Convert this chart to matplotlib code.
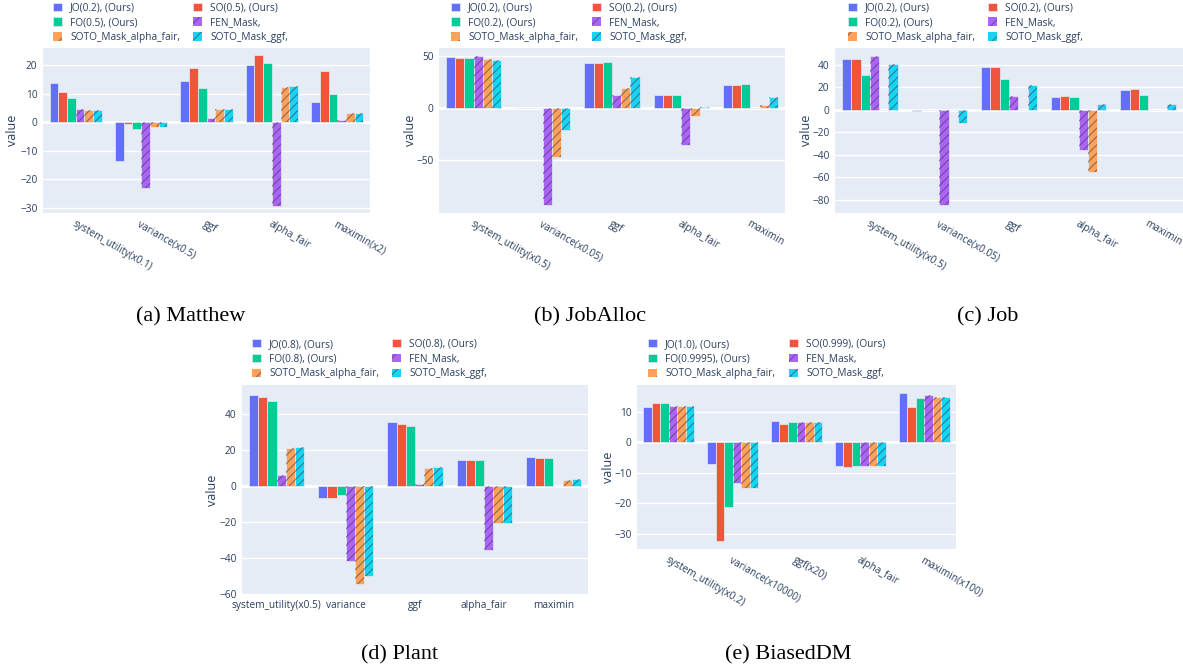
import matplotlib
matplotlib.use("Agg")
import matplotlib.pyplot as plt
import numpy as np
from matplotlib.patches import Patch

plt.rcParams['font.family'] = ['Open Sans', 'DejaVu Sans']
plt.rcParams['hatch.linewidth'] = 0.8

# ---------------------------------------------------------------- data
baselines = ["FEN_Mask,", "SOTO_Mask_alpha_fair,", "SOTO_Mask_ggf,"]

matthew_series = ["JO(0.2), (Ours)", "SO(0.5), (Ours)", "FO(0.5), (Ours)"] + baselines
matthew_metrics = ["system_utility(x0.1)", "variance(x0.5)", "ggf", "alpha_fair", "maximin(x2)"]
matthew_values = [
    [13.9, -13.5, 14.5, 20.0, 7.2],
    [10.7, -0.6, 18.9, 23.4, 17.8],
    [8.5, -2.5, 11.9, 20.8, 10.0],
    [4.7, -23.0, 1.6, -29.2, 0.7],
    [4.2, -1.5, 4.6, 12.4, 3.2],
    [4.2, -1.5, 4.6, 12.6, 3.2],
]

joballoc_series = ["JO(0.2), (Ours)", "SO(0.2), (Ours)", "FO(0.2), (Ours)"] + baselines
joballoc_metrics = ["system_utility(x0.5)", "variance(x0.05)", "ggf", "alpha_fair", "maximin"]
joballoc_values = [
    [48.4, -0.4, 43.0, 12.4, 21.7],
    [47.8, -0.4, 43.0, 12.4, 22.0],
    [47.8, -0.3, 44.0, 12.4, 22.6],
    [50.0, -92.4, 12.4, -35.7, 0.0],
    [47.1, -46.5, 19.4, -7.3, 2.9],
    [45.5, -21.3, 29.6, 1.3, 10.5],
]

job_series = ["JO(0.2), (Ours)", "SO(0.2), (Ours)", "FO(0.2), (Ours)"] + baselines
job_metrics = ["system_utility(x0.5)", "variance(x0.05)", "ggf", "alpha_fair", "maximin"]
job_values = [
    [44.7, -0.8, 37.6, 11.3, 17.2],
    [44.7, -0.5, 38.2, 12.2, 18.4],
    [31.1, -0.1, 27.3, 11.3, 13.4],
    [48.0, -84.2, 12.2, -35.7, 0.0],
    [0.0, 0.0, 0.0, -55.2, 0.0],
    [40.6, -11.7, 22.3, 5.4, 5.1],
]

plant_series = ["JO(0.8), (Ours)", "SO(0.8), (Ours)", "FO(0.8), (Ours)"] + baselines
plant_metrics = ["system_utility(x0.5)", "variance", "ggf", "alpha_fair", "maximin"]
plant_values = [
    [50.7, -6.3, 35.6, 14.8, 16.5],
    [49.6, -6.7, 34.4, 14.6, 15.9],
    [47.4, -4.8, 33.3, 14.4, 15.7],
    [6.3, -41.5, 1.1, -35.4, 0.0],
    [21.1, -54.3, 10.2, -20.6, 3.5],
    [21.7, -50.0, 10.7, -20.6, 3.9],
]

biaseddm_series = ["JO(1.0), (Ours)", "SO(0.999), (Ours)", "FO(0.9995), (Ours)"] + baselines
biaseddm_metrics = ["system_utility(x0.2)", "variance(x10000)", "ggf(x20)", "alpha_fair", "maximin(x100)"]
biaseddm_values = [
    [11.6, -7.1, 7.0, -7.8, 16.2],
    [12.7, -32.4, 6.1, -8.0, 11.5],
    [12.7, -21.2, 6.5, -7.9, 14.6],
    [11.8, -13.3, 6.7, -7.9, 15.3],
    [11.8, -15.1, 6.6, -7.9, 14.8],
    [12.0, -15.1, 6.6, -7.9, 14.8],
]

captions = ["(a) Matthew", "(b) JobAlloc", "(c) Job", "(d) Plant", "(e) BiasedDM"]

# ---------------------------------------------------------------- style
COLORS = ["#636EFA", "#EF553B", "#00CC96", "#AB63FA", "#FFA15A", "#19D3F3"]
HATCHED = [False, False, False, True, True, True]
BG = "#E5ECF6"
TXT = "#2a3f5f"
HATCH_COLOR = (0.25, 0.25, 0.3, 0.6)
HATCH = "////"

W, H = 1183, 671
fig = plt.figure(figsize=(W / 100, H / 100), dpi=100)


def fx(px):
    return px / W


def fy(py):
    return 1 - py / H


# panel layout in pixels: plot box, y range/ticks, label rotation, legend and caption anchors
panels = [
    dict(series=matthew_series, metrics=matthew_metrics, values=matthew_values,
         box=(43, 370, 48, 213), ylim=(-31.8, 26.0), yticks=[-30, -20, -10, 0, 10, 20],
         rotate=True, leg_x=(53, 193), leg_y=22.7, ylab_x=12, cap=(191, 317)),
    dict(series=joballoc_series, metrics=joballoc_metrics, values=joballoc_values,
         box=(439, 785, 48, 213), ylim=(-100.3, 57.3), yticks=[-50, 0, 50],
         rotate=True, leg_x=(451, 592), leg_y=22.7, ylab_x=410, cap=(590, 317)),
    dict(series=job_series, metrics=job_metrics, values=job_values,
         box=(835, 1183, 48, 213), ylim=(-91.5, 54.8), yticks=[-80, -60, -40, -20, 0, 20, 40],
         rotate=True, leg_x=(848, 988), leg_y=22.7, ylab_x=807, cap=(988, 317)),
    dict(series=plant_series, metrics=plant_metrics, values=plant_values,
         box=(242, 588, 385, 595), ylim=(-60.4, 56.3), yticks=[-60, -40, -20, 0, 20, 40],
         rotate=False, leg_x=(252, 392), leg_y=359, ylab_x=212, cap=(400, 655)),
    dict(series=biaseddm_series, metrics=biaseddm_metrics, values=biaseddm_values,
         box=(637, 956, 385, 549), ylim=(-34.9, 18.7), yticks=[-30, -20, -10, 0, 10],
         rotate=True, leg_x=(648, 789), leg_y=359, ylab_x=608, cap=(788, 655)),
]

FS = 7.3
n_series = 6
width = 0.8 / n_series

for p, caption in zip(panels, captions):
    l, r, t, b = p["box"]
    ax = fig.add_axes([fx(l), fy(b), fx(r) - fx(l), fy(t) - fy(b)])
    ax.set_facecolor(BG)
    for s in ax.spines.values():
        s.set_visible(False)

    x = np.arange(len(p["metrics"]))
    handles = []
    for i, (name, vals) in enumerate(zip(p["series"], p["values"])):
        pos = x + (i - (n_series - 1) / 2) * width
        ax.bar(pos, vals, width, color=COLORS[i], edgecolor=BG, linewidth=0.5, zorder=2)
        if HATCHED[i]:
            ax.bar(pos, vals, width, fill=False, edgecolor=HATCH_COLOR, linewidth=0,
                   hatch=HATCH, zorder=2.1)
            handles.append(Patch(facecolor=COLORS[i], edgecolor=HATCH_COLOR, hatch="//",
                                 linewidth=0, label=name))
        else:
            handles.append(Patch(facecolor=COLORS[i], edgecolor=BG, linewidth=0.5, label=name))

    ax.set_xlim(-0.5, len(x) - 0.5)
    ax.set_ylim(*p["ylim"])
    ax.set_yticks(p["yticks"])
    ax.set_yticklabels([str(v).replace("-", "\u2212") for v in p["yticks"]])
    ax.set_axisbelow(True)
    ax.yaxis.grid(True, color="white", linewidth=1.0, zorder=0)
    ax.axhline(0, color="white", linewidth=2.0, zorder=1)
    ax.tick_params(axis="both", length=0, labelsize=FS, labelcolor=TXT)
    ax.tick_params(axis="y", pad=4)
    ax.set_xticks(x)
    if p["rotate"]:
        ax.set_xticklabels(p["metrics"], rotation=-30, ha="left", va="top",
                           rotation_mode="anchor")
        ax.tick_params(axis="x", pad=4)
    else:
        ax.set_xticklabels(p["metrics"])
        ax.tick_params(axis="x", pad=3.5)

    # legend: two columns filled row-wise
    cols = [handles[0::2], handles[1::2]]
    for k, (hx, col) in enumerate(zip(p["leg_x"], cols)):
        leg = ax.legend(handles=col, loc="center left",
                        bbox_to_anchor=(fx(hx), fy(p["leg_y"])),
                        bbox_transform=fig.transFigure, frameon=False, fontsize=FS,
                        borderpad=0, borderaxespad=0, handlelength=0.9, handleheight=0.9,
                        handletextpad=0.8, labelspacing=0.38, labelcolor=TXT)
        if k == 0:
            ax.add_artist(leg)

    fig.text(fx(p["ylab_x"]), fy((t + b) / 2), "value", rotation=90, ha="center",
             va="center", fontsize=9, color=TXT)
    fig.text(fx(p["cap"][0]), fy(p["cap"][1]), caption, ha="center", va="center",
             fontsize=16, color="black", family=["Liberation Serif", "DejaVu Serif"])

fig.savefig("out.png", dpi=100, facecolor="white")
